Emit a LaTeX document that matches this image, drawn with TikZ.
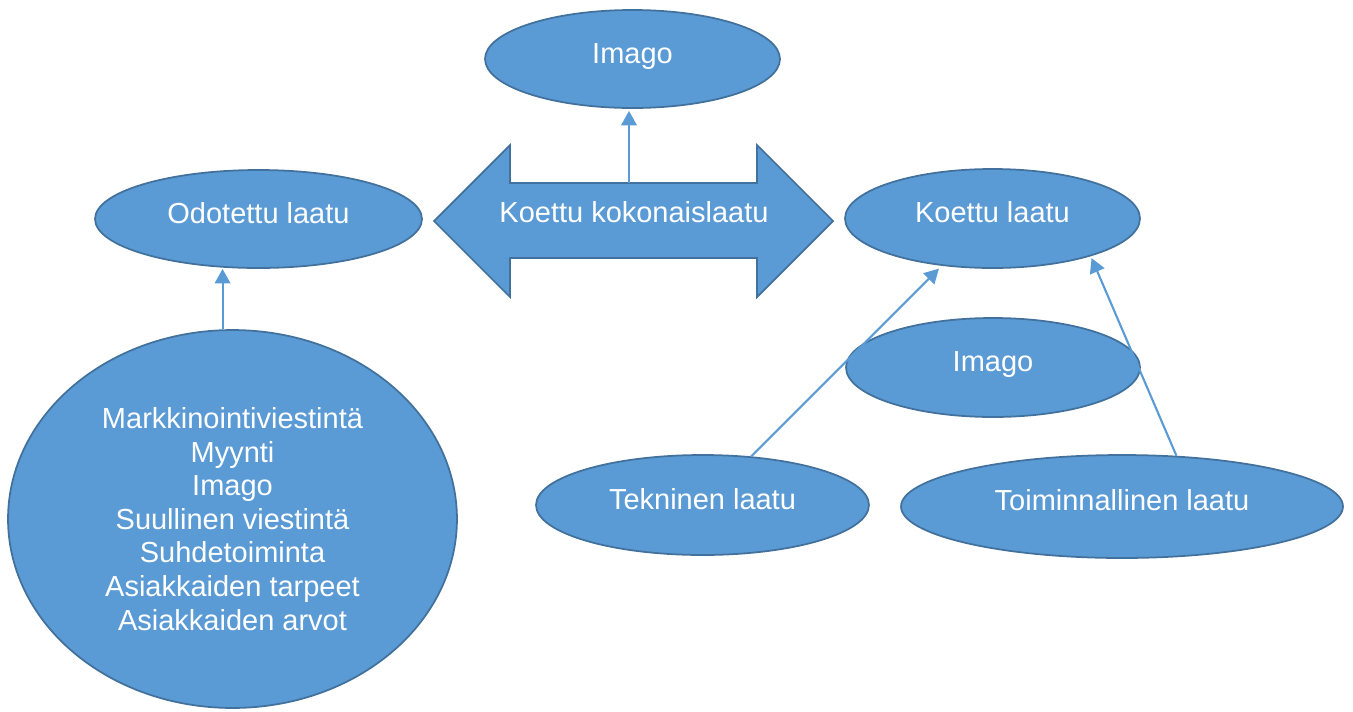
\documentclass[tikz,border=0pt]{standalone}
\usepackage{fontspec}
\setmainfont{Liberation Sans}
\usetikzlibrary{shapes.geometric,arrows.meta}

\definecolor{shapeblue}{HTML}{5B9BD5}
\definecolor{rimblue}{HTML}{41719C}

\tikzset{
  oval/.style={ellipse, draw=rimblue, line width=1pt, fill=shapeblue,
    text=white, inner sep=0pt, align=center,
    font=\fontsize{16.5}{19.1}\selectfont},
  lifted/.style={text height=12pt, text depth=7pt},
  link/.style={draw=shapeblue, line width=1.2pt,
    -{Triangle[width=0.31cm,length=0.29cm]}}
}

\begin{document}
\begin{tikzpicture}[x=0.02cm, y=-0.02cm]
  \useasboundingbox (0,0) rectangle (1353,711);

  % Upper row
  \node[oval, lifted, minimum width=5.9cm, minimum height=1.96cm] (imagotop) at (632.5,59) {Imago};
  \node[oval, lifted, minimum width=6.54cm, minimum height=1.96cm] (odotettu) at (258.5,219) {Odotettu laatu};
  \node[oval, lifted, minimum width=5.9cm, minimum height=1.98cm] (koettu) at (992.5,218.5) {Koettu laatu};

  % Double arrow in the middle
  \draw[rimblue, line width=1pt, fill=shapeblue]
    (434,221) -- (510,145) -- (510,183) -- (757,183) -- (757,145) -- (833,221)
    -- (757,297) -- (757,258) -- (510,258) -- (510,297) -- cycle;
  \node[lifted, text=white, inner sep=0pt, font=\fontsize{16.5}{19.1}\selectfont] (total) at (634,218) {Koettu kokonaislaatu};
  \coordinate (shafttop) at (629,183);

  % Lower part
  \node[oval, minimum width=8.98cm, minimum height=7.56cm] (lista) at (232.5,519)
    {Markkinointiviestintä\\Myynti\\Imago\\Suullinen viestintä\\Suhdetoiminta\\Asiakkaiden tarpeet\\Asiakkaiden arvot};
  \node[oval, lifted, minimum width=5.88cm, minimum height=1.98cm] (imagomid) at (993,367.5) {Imago};
  \node[oval, lifted, minimum width=6.66cm, minimum height=2cm] (tekninen) at (702.5,505) {Tekninen laatu};
  \node[oval, lifted, minimum width=8.84cm, minimum height=2.06cm] (toiminnal) at (1122,506.5) {Toiminnallinen laatu};

  % Arrows
  \draw[link] (shafttop) -- ([yshift=-0.04cm]imagotop.south -| shafttop);
  \draw[link] (lista.93) -- (odotettu.south -| lista.93);
  \draw[link, shorten >=0.08cm] (tekninen.45) -- (koettu.223);
  \draw[link, shorten >=0.04cm] (toiminnal.43) -- (koettu.339);
\end{tikzpicture}
\end{document}
